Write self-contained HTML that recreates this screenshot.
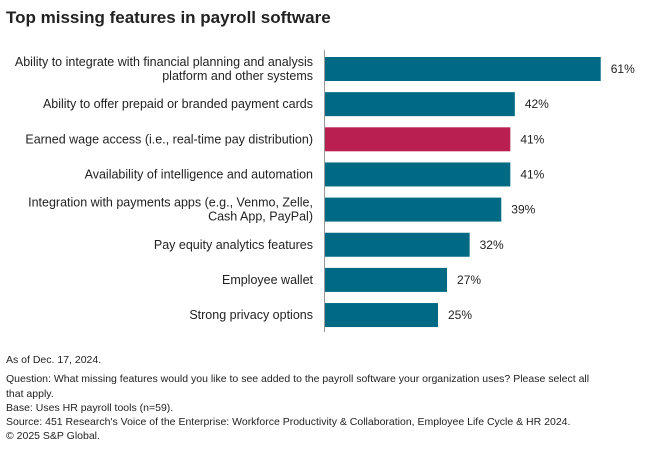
<!DOCTYPE html>
<html><head><meta charset="utf-8">
<style>
body{margin:0;width:660px;height:454px;background:#fff;font-family:"Liberation Sans",sans-serif;overflow:hidden}
#title{position:absolute;left:6px;top:8px;font-size:17px;font-weight:bold;color:#222}
#notes{position:absolute;left:6px;top:353px;font-size:10.5px;line-height:14.3px;color:#222;width:650px;white-space:nowrap}
#notes .first{display:block;margin-bottom:5px}
svg{position:absolute;left:0;top:0}
</style></head><body>
<div id="title">Top missing features in payroll software</div>
<svg id="chart" width="660" height="454"></svg>
<div id="notes"><span class="first">As of Dec. 17, 2024.</span>Question: What missing features would you like to see added to the payroll software your organization uses? Please select all<br>that apply.<br>Base: Uses HR payroll tools (n=59).<br>Source: 451 Research's Voice of the Enterprise: Workforce Productivity &amp; Collaboration, Employee Life Cycle &amp; HR 2024.<br>© 2025 S&amp;P Global.</div>
<script>
const categories=[["Ability to integrate with financial planning and analysis","platform and other systems"],["Ability to offer prepaid or branded payment cards"],["Earned wage access (i.e., real-time pay distribution)"],["Availability of intelligence and automation"],["Integration with payments apps (e.g., Venmo, Zelle,","Cash App, PayPal)"],["Pay equity analytics features"],["Employee wallet"],["Strong privacy options"]];
const values=[61,42,41,41,39,32,27,25];
const highlight=[false,false,true,false,false,false,false,false];
const NS="http://www.w3.org/2000/svg";
const svg=document.getElementById('chart');
const x0=325, pxPer=4.52, top0=57, step=35.15, bh=24;
const xs=v=>x0+v*pxPer;
const ys=i=>top0+i*step;
function mk(t,a){const e=document.createElementNS(NS,t);for(const k in a)e.setAttribute(k,a[k]);svg.appendChild(e);return e;}
values.forEach((v,i)=>{
  const r=mk('rect',{x:x0,y:ys(i),width:xs(v)-x0,height:bh,fill:highlight[i]?'#b91f50':'#006a84'});
  
  
  const t=mk('text',{x:xs(v)+10,y:ys(i)+bh/2+4,'font-size':'12',fill:'#222'});
  t.textContent=v+'%';
  
  
  const lines=categories[i];
  const lt=mk('text',{'text-anchor':'end','font-size':'12.5',fill:'#222'});
  
  
  lines.forEach((s,j)=>{const sp=document.createElementNS(NS,'tspan');sp.setAttribute('x',313);
    sp.setAttribute('y',ys(i)+bh/2+4+(j-(lines.length-1)/2)*14);sp.textContent=s;lt.appendChild(sp);});
});
const ax=mk('line',{x1:324.5,x2:324.5,y1:50,y2:332,stroke:'#999','stroke-width':1});


</script>
</body></html>
